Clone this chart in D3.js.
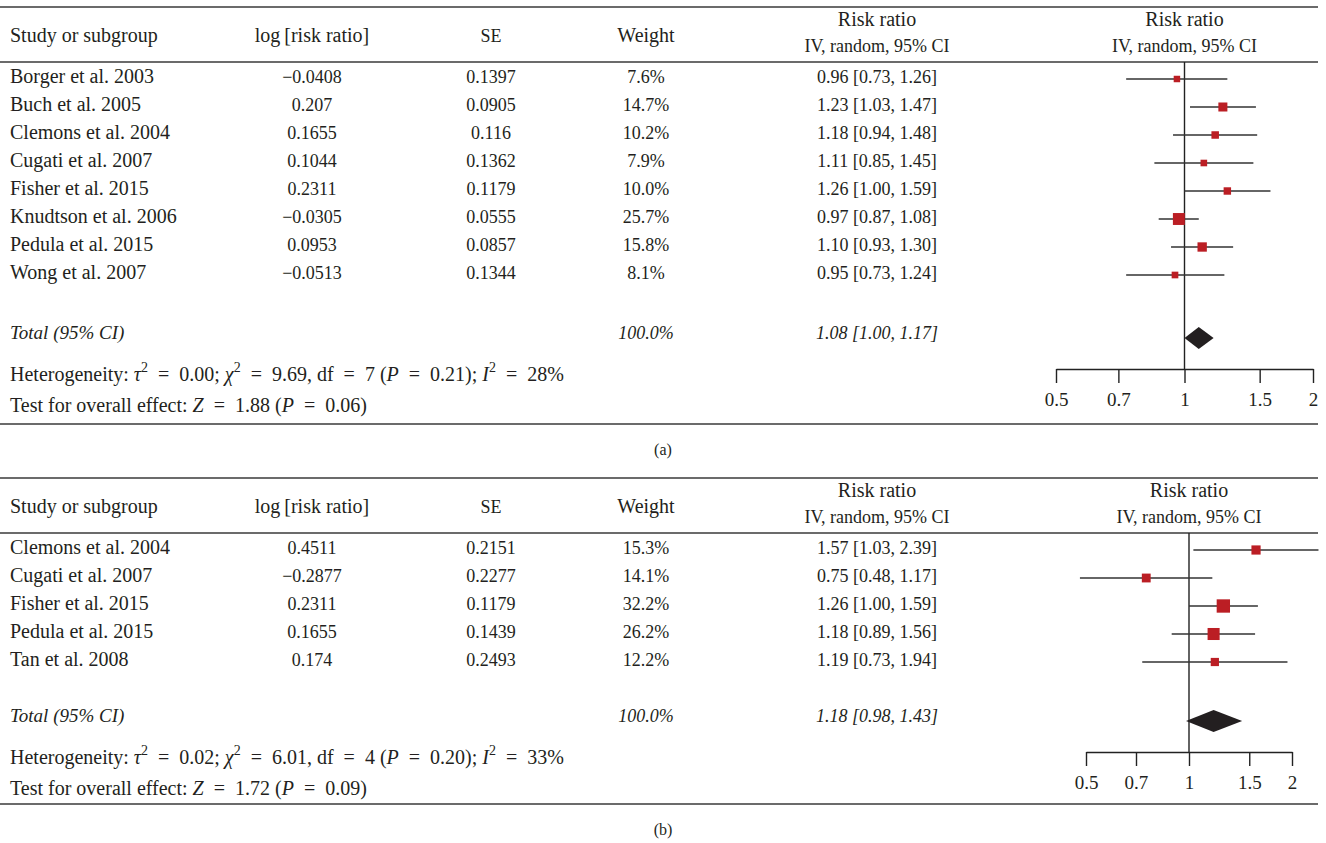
<!DOCTYPE html>
<html>
<head>
<meta charset="utf-8">
<script src="https://cdn.jsdelivr.net/npm/d3@7"></script>
<style>
  body { margin: 0; background: #fff; }
  svg text { font-family: "Liberation Serif", "Times New Roman", serif; font-size: 18px; fill: #231f20; }
  svg text.word { font-size: 20px; }
</style>
</head>
<body>
<div id="chart"></div>
<script>
// panel (a)
const studiesA = ['Borger et al. 2003', 'Buch et al. 2005', 'Clemons et al. 2004', 'Cugati et al. 2007',
    'Fisher et al. 2015', 'Knudtson et al. 2006', 'Pedula et al. 2015', 'Wong et al. 2007'];
const logRRA = [-0.0408, 0.207, 0.1655, 0.1044, 0.2311, -0.0305, 0.0953, -0.0513];
const seA = [0.1397, 0.0905, 0.116, 0.1362, 0.1179, 0.0555, 0.0857, 0.1344];
const weightA = [7.6, 14.7, 10.2, 7.9, 10.0, 25.7, 15.8, 8.1];
const rrA = [0.96, 1.23, 1.18, 1.11, 1.26, 0.97, 1.10, 0.95];
const lowerA = [0.73, 1.03, 0.94, 0.85, 1.00, 0.87, 0.93, 0.73];
const upperA = [1.26, 1.47, 1.48, 1.45, 1.59, 1.08, 1.30, 1.24];
const totalA = [1.08, 1.00, 1.17];
const hetA = ['0.00', '9.69', '7', '0.21', '28'];
const testA = ['1.88', '0.06'];

// panel (b)
const studiesB = ['Clemons et al. 2004', 'Cugati et al. 2007', 'Fisher et al. 2015', 'Pedula et al. 2015', 'Tan et al. 2008'];
const logRRB = [0.4511, -0.2877, 0.2311, 0.1655, 0.174];
const seB = [0.2151, 0.2277, 0.1179, 0.1439, 0.2493];
const weightB = [15.3, 14.1, 32.2, 26.2, 12.2];
const rrB = [1.57, 0.75, 1.26, 1.18, 1.19];
const lowerB = [1.03, 0.48, 1.00, 0.89, 0.73];
const upperB = [2.39, 1.17, 1.59, 1.56, 1.94];
const totalB = [1.18, 0.98, 1.43];
const hetB = ['0.02', '6.01', '4', '0.20', '33'];
const testB = ['1.72', '0.09'];

const tickValues = [0.5, 0.7, 1, 1.5, 2];

const W = 1326, H = 843;
const svg = d3.select('#chart').append('svg')
    .attr('width', W)
    .attr('height', H);

const lineColor = '#3a3a3a';
const boxColor = '#bb1e24';
const fmtNum = v => String(v).replace('-', '\u2212');
const size = d3.scaleSqrt().domain([0, 100]).range([0, 23.5]);
const EQ = '\u2002=\u2002';

function drawPanel(cfg) {
    const g = svg.append('g').attr('transform', `translate(0,${cfg.top})`);
    const rows = cfg.studies.map((s, i) => ({
        name: s, logrr: cfg.logrr[i], se: cfg.se[i], w: cfg.weight[i],
        rr: cfg.rr[i], lo: cfg.lower[i], hi: cfg.upper[i]
    }));

    const x = d3.scaleLog().domain([0.5, 2]).range(cfg.range);
    const y = d3.scaleLinear().domain([0, 1]).range([77, 105]);
    const totalY = cfg.totalY, hetY = totalY + 42, testY = hetY + 31;
    const axisY = hetY - 6;
    const plotMid = (cfg.range[0] + cfg.range[1]) / 2;

    // rules
    [7, 62, cfg.bottomRule].forEach(yy => {
        g.append('line')
            .attr('x1', 0).attr('x2', 1318)
            .attr('y1', yy).attr('y2', yy)
            .attr('stroke', lineColor)
            .attr('stroke-width', 1.6);
    });

    // header
    g.append('text').attr('class', 'word').attr('x', 10).attr('y', 42).text('Study or subgroup');
    g.append('text').attr('class', 'word').attr('x', 312).attr('y', 42).attr('text-anchor', 'middle').text('log\u2009[risk ratio]');
    g.append('text').attr('x', 491).attr('y', 42).attr('text-anchor', 'middle').text('SE');
    g.append('text').attr('class', 'word').attr('x', 646).attr('y', 42).attr('text-anchor', 'middle').text('Weight');
    [877, plotMid].forEach(cx => {
        g.append('text').attr('class', 'word').attr('x', cx).attr('y', 26).attr('text-anchor', 'middle').text('Risk ratio');
        g.append('text').attr('x', cx).attr('y', 52).attr('text-anchor', 'middle').text('IV, random, 95% CI');
    });

    // table rows
    const row = g.selectAll('.row').data(rows).join('g')
        .attr('class', 'row')
        .attr('transform', (d, i) => `translate(0,${y(i) + 6})`);
    row.append('text').attr('class', 'word').attr('x', 10).text(d => d.name);
    row.append('text').attr('x', 312).attr('text-anchor', 'middle').text(d => fmtNum(d.logrr));
    row.append('text').attr('x', 491).attr('text-anchor', 'middle').text(d => fmtNum(d.se));
    row.append('text').attr('x', 646).attr('text-anchor', 'middle').text(d => d.w.toFixed(1) + '%');
    row.append('text').attr('x', 877).attr('text-anchor', 'middle')
        .text(d => `${d.rr.toFixed(2)} [${d.lo.toFixed(2)}, ${d.hi.toFixed(2)}]`);

    // total row
    const tot = g.append('g').attr('transform', `translate(0,${totalY + 6})`)
        .style('font-style', 'italic');
    tot.append('text').attr('x', 10).style('font-size', '19px').text('Total (95% CI)');
    tot.append('text').attr('x', 646).attr('text-anchor', 'middle').text('100.0%');
    tot.append('text').attr('x', 877).attr('text-anchor', 'middle')
        .text(`${cfg.total[0].toFixed(2)} [${cfg.total[1].toFixed(2)}, ${cfg.total[2].toFixed(2)}]`);

    // heterogeneity and overall effect
    const het = g.append('text').attr('class', 'word').attr('x', 10).attr('y', hetY + 6);
    const parts = [
        ['Heterogeneity: '], ['\u03c4', 'i'], ['2', 's'], [`${EQ}${cfg.het[0]}; `], ['\u03c7', 'i'], ['2', 's'],
        [`${EQ}${cfg.het[1]}, df${EQ}${cfg.het[2]} (`], ['P', 'i'], [`${EQ}${cfg.het[3]}); `], ['I', 'i'], ['2', 's'],
        [`${EQ}${cfg.het[4]}%`]
    ];
    let lastSup = false;
    parts.forEach(p => {
        const t = het.append('tspan').text(p[0]);
        if (p[1] === 'i') t.style('font-style', 'italic');
        if (p[1] === 's') t.attr('dy', -9).style('font-size', '14px');
        else if (lastSup) t.attr('dy', 9);
        lastSup = p[1] === 's';
    });
    const test = g.append('text').attr('class', 'word').attr('x', 10).attr('y', testY + 6);
    test.append('tspan').text('Test for overall effect: ');
    test.append('tspan').style('font-style', 'italic').text('Z');
    test.append('tspan').text(`${EQ}${cfg.test[0]} (`);
    test.append('tspan').style('font-style', 'italic').text('P');
    test.append('tspan').text(`${EQ}${cfg.test[1]})`);

    // forest plot
    g.append('line')
        .attr('x1', x(1)).attr('x2', x(1))
        .attr('y1', 62).attr('y2', axisY)
        .attr('stroke', '#222').attr('stroke-width', 1.4);

    const mark = g.selectAll('.mark').data(rows).join('g')
        .attr('class', 'mark')
        .attr('transform', (d, i) => `translate(0,${y(i) + 2})`);
    mark.append('line')
        .attr('x1', d => x(d.lo)).attr('x2', d => x(d.hi))
        .attr('stroke', '#333').attr('stroke-width', 1.3);
    mark.append('rect')
        .attr('x', d => x(d.rr) - size(d.w) / 2)
        .attr('y', d => -size(d.w) / 2)
        .attr('width', d => size(d.w))
        .attr('height', d => size(d.w))
        .attr('fill', boxColor);

    const dh = 11, dy = totalY + 5;
    g.append('path')
        .attr('d', `M${x(cfg.total[1])},${dy} L${x(cfg.total[0])},${dy - dh} L${x(cfg.total[2])},${dy} L${x(cfg.total[0])},${dy + dh} Z`)
        .attr('fill', '#231f20');

    const axis = g.append('g')
        .attr('transform', `translate(0,${axisY})`)
        .call(d3.axisBottom(x).tickValues(tickValues).tickFormat(d => d)
            .tickSize(14).tickSizeOuter(0).tickPadding(10));
    axis.select('.domain').attr('stroke', '#222').attr('stroke-width', 1.4);
    axis.selectAll('.tick line').attr('stroke', '#222').attr('stroke-width', 1.4);
    axis.selectAll('.tick text')
        .style('font-family', '"Liberation Serif", serif')
        .style('font-size', '19px')
        .attr('fill', '#231f20');

    svg.append('text')
        .attr('x', 663).attr('y', cfg.top + cfg.labelY + 6)
        .attr('text-anchor', 'middle')
        .style('font-size', '16px')
        .text(cfg.label);
}

drawPanel({
    top: 0, studies: studiesA, logrr: logRRA, se: seA, weight: weightA, rr: rrA,
    lower: lowerA, upper: upperA, total: totalA, het: hetA, test: testA,
    range: [1056, 1313], totalY: 333, bottomRule: 424, labelY: 449, label: '(a)'
});
drawPanel({
    top: 471, studies: studiesB, logrr: logRRB, se: seB, weight: weightB, rr: rrB,
    lower: lowerB, upper: upperB, total: totalB, het: hetB, test: testB,
    range: [1086, 1292], totalY: 245, bottomRule: 333, labelY: 358, label: '(b)'
});
</script>
</body>
</html>
